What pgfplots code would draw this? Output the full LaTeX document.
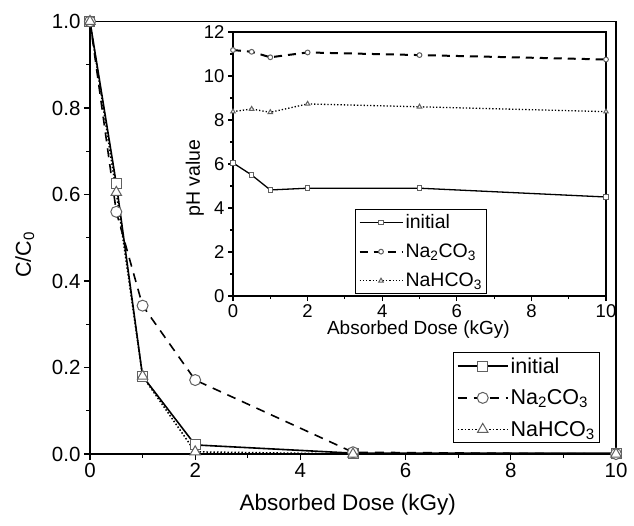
\documentclass[border=0pt]{standalone}
\usepackage{fontspec}
\setmainfont{Liberation Sans}
\usepackage{pgfplots}
\pgfplotsset{compat=1.18}

\pgfplotsset{
  common/.style={
    scale only axis, clip=false,
    tick align=outside, xtick pos=bottom, ytick pos=left,
    /pgf/number format/assume math mode=true,
    every tick/.style={black, line width=1.1pt},
    legend cell align=left,
  },
  leglen/.style={legend image code/.code={\draw[mark repeat=2,mark phase=2] plot coordinates {(0pt,0pt)(#1/2,0pt)(#1,0pt)};}},
  mk/.style={mark options={solid, draw=gray!75!black, fill=white, line width=1pt}},
}

\begin{document}
\begin{tikzpicture}
\path (-90pt,-71pt) rectangle (544pt,454pt);

% main plot
\begin{axis}[common, leglen=50pt,
  at={(0pt,0pt)}, anchor=south west,
  width=526pt, height=432.5pt,
  xmin=0, xmax=10, ymin=0, ymax=1,
  xtick={0,2,4,6,8,10}, minor x tick num=1,
  ytick={0,0.2,0.4,0.6,0.8,1.0}, minor y tick num=1,
  yticklabel style={/pgf/number format/.cd, fixed, fixed zerofill, precision=1},
  major tick length=6pt, minor tick length=3.5pt,
  axis line style={line width=1.6pt},
  tick label style={font=\fontsize{20.5}{20.5}\selectfont},
  xlabel={Absorbed Dose (kGy)}, ylabel={C/C\textsubscript{0}},
  every axis x label/.style={at={(axis description cs:0.49,-0.118)}, anchor=center, font=\fontsize{22.5}{22.5}\selectfont},
  every axis y label/.style={at={(axis description cs:-0.124,0.46)}, rotate=90, anchor=center, font=\fontsize{21.5}{21.5}\selectfont},
  legend style={at={(0.970,0.025)}, anchor=south east, draw=black, line width=1.1pt,
    font=\fontsize{21.5}{21.5}\selectfont, row sep=11pt, inner sep=3pt},
]
\addplot[black, line width=1.6pt, mk, mark=square*, mark size=5pt] coordinates
  {(0,1.0)(0.5,0.625)(1,0.18)(2,0.021)(5,0.002)(10,0.002)};
\addlegendentry{initial}
\addplot[black, line width=1.6pt, dash pattern=on 9pt off 7pt, mk, mark=*, mark size=5.5pt] coordinates
  {(0,1.0)(0.5,0.56)(1,0.343)(2,0.171)(5,0.004)(10,0.0)};
\addlegendentry{Na\textsubscript{2}CO\textsubscript{3}}
\addplot[black, line width=1.5pt, dotted, mk, mark=triangle*, mark size=6pt] coordinates
  {(0,1.0)(0.5,0.605)(1,0.18)(2,0.005)(5,0.0)(10,0.0)};
\addlegendentry{NaHCO\textsubscript{3}}
\end{axis}

% inset
\begin{axis}[common, leglen=43pt,
  at={(143pt,158pt)}, anchor=south west,
  width=373pt, height=264pt,
  axis background/.style={fill=white},
  xmin=0, xmax=10, ymin=0, ymax=12,
  xtick={0,2,4,6,8,10}, minor x tick num=1,
  ytick={0,2,4,6,8,10,12}, minor y tick num=1,
  major tick length=5pt, minor tick length=3pt,
  axis line style={line width=1.3pt},
  tick label style={font=\fontsize{18.5}{18.5}\selectfont},
  xlabel={Absorbed Dose (kGy)}, ylabel={pH value},
  every axis x label/.style={at={(axis description cs:0.497,-0.128)}, anchor=center, font=\fontsize{19}{19}\selectfont},
  every axis y label/.style={at={(axis description cs:-0.102,0.447)}, rotate=90, anchor=center, font=\fontsize{19.5}{19.5}\selectfont},
  legend style={at={(0.327,0.008)}, anchor=south west, draw=black, line width=1.1pt,
    font=\fontsize{19.5}{19.5}\selectfont, row sep=10pt, inner sep=3pt},
]
\addplot[black, line width=1.3pt, mk, mark=square*, mark size=2.2pt] coordinates
  {(0,6.05)(0.5,5.5)(1,4.82)(2,4.9)(5,4.9)(10,4.5)};
\addlegendentry{initial}
\addplot[black, line width=2pt, dash pattern=on 8pt off 6pt, mk, mark=*, mark size=2.4pt] coordinates
  {(0,11.18)(0.5,11.1)(1,10.85)(2,11.07)(5,10.95)(10,10.75)};
\addlegendentry{Na\textsubscript{2}CO\textsubscript{3}}
\addplot[black, line width=1.3pt, dotted, mk, mark=triangle*, mark size=2.6pt] coordinates
  {(0,8.38)(0.5,8.5)(1,8.35)(2,8.73)(5,8.6)(10,8.38)};
\addlegendentry{NaHCO\textsubscript{3}}
\end{axis}
\end{tikzpicture}
\end{document}
